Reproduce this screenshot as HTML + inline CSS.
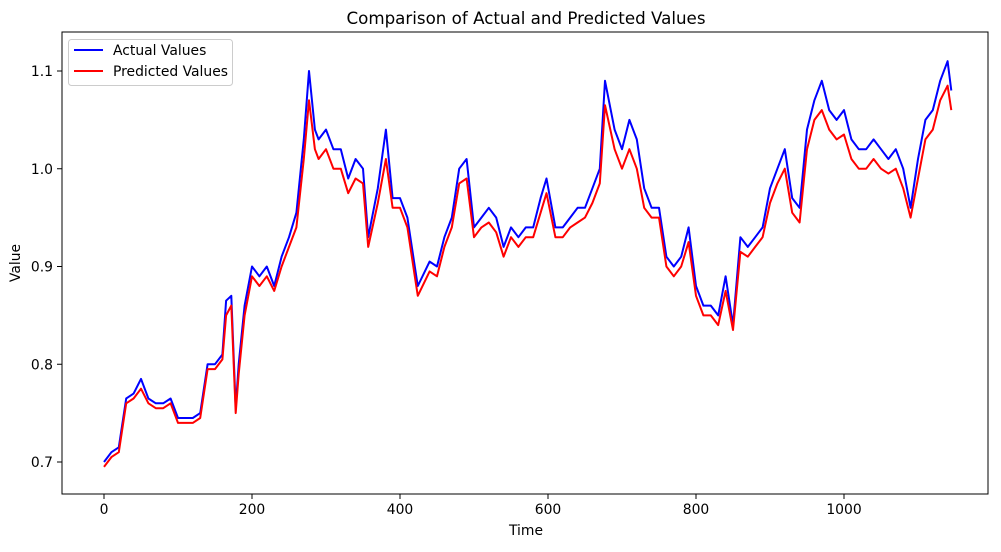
<!DOCTYPE html>
<html><head><meta charset="utf-8"><style>
body{margin:0;background:#fff;}
svg text{font-family:"DejaVu Sans","Liberation Sans",sans-serif;fill:#000;}
</style></head><body>
<svg id="chart" width="1001" height="547" xmlns="http://www.w3.org/2000/svg">
<rect width="1001" height="547" fill="#fff"/>
<text x="526" y="24" font-size="16.7" text-anchor="middle">Comparison of Actual and Predicted Values</text>
<g id="series"></g>
<rect x="62" y="32" width="926" height="462" fill="none" stroke="#000" stroke-width="1"/>
<g id="xticks"></g><g id="yticks"></g>
<text x="526" y="535" font-size="13.9" text-anchor="middle">Time</text>
<text transform="translate(20,263) rotate(-90)" font-size="13.9" text-anchor="middle">Value</text>
<g>
<rect x="68.5" y="39.5" width="164" height="46" rx="3" fill="#fff" stroke="#ccc" stroke-width="1"/>
<line x1="74" y1="50" x2="103" y2="50" stroke="#0000ff" stroke-width="2"/>
<text x="113" y="55" font-size="13.9">Actual Values</text>
<line x1="74" y1="71" x2="103" y2="71" stroke="#ff0000" stroke-width="2"/>
<text x="113" y="76" font-size="13.9">Predicted Values</text>
</g>
</svg>
<script>
const times = [0,10,20,30,40,50,60,70,80,90,100,110,120,130,140,150,160,165,172,178,182,190,200,210,220,230,240,250,260,270,277,285,290,300,310,320,330,340,350,357,370,381,390,400,410,420,424,440,450,460,470,480,490,500,510,520,530,540,550,560,570,580,590,598,610,620,630,640,650,660,670,677,690,700,710,720,730,740,750,760,770,780,790,800,810,820,830,840,850,860,870,880,890,900,910,920,930,940,950,960,970,980,990,1000,1010,1020,1030,1040,1050,1060,1070,1080,1090,1100,1110,1120,1130,1140,1145];
const actualValues = [0.70,0.71,0.715,0.765,0.77,0.785,0.765,0.76,0.76,0.765,0.745,0.745,0.745,0.75,0.80,0.80,0.81,0.865,0.87,0.755,0.80,0.86,0.90,0.89,0.90,0.88,0.91,0.93,0.955,1.03,1.10,1.04,1.03,1.04,1.02,1.02,0.99,1.01,1.00,0.93,0.98,1.04,0.97,0.97,0.95,0.90,0.88,0.905,0.90,0.93,0.95,1.00,1.01,0.94,0.95,0.96,0.95,0.92,0.94,0.93,0.94,0.94,0.97,0.99,0.94,0.94,0.95,0.96,0.96,0.98,1.00,1.09,1.04,1.02,1.05,1.03,0.98,0.96,0.96,0.91,0.90,0.91,0.94,0.88,0.86,0.86,0.85,0.89,0.84,0.93,0.92,0.93,0.94,0.98,1.00,1.02,0.97,0.96,1.04,1.07,1.09,1.06,1.05,1.06,1.03,1.02,1.02,1.03,1.02,1.01,1.02,1.00,0.96,1.01,1.05,1.06,1.09,1.11,1.08];
const predictedValues = [0.695,0.705,0.71,0.76,0.765,0.775,0.76,0.755,0.755,0.76,0.74,0.74,0.74,0.745,0.795,0.795,0.805,0.85,0.86,0.75,0.79,0.85,0.89,0.88,0.89,0.875,0.90,0.92,0.94,1.01,1.07,1.02,1.01,1.02,1.00,1.00,0.975,0.99,0.985,0.92,0.965,1.01,0.96,0.96,0.94,0.89,0.87,0.895,0.89,0.92,0.94,0.985,0.99,0.93,0.94,0.945,0.935,0.91,0.93,0.92,0.93,0.93,0.955,0.975,0.93,0.93,0.94,0.945,0.95,0.965,0.985,1.065,1.02,1.00,1.02,1.00,0.96,0.95,0.95,0.90,0.89,0.90,0.925,0.87,0.85,0.85,0.84,0.875,0.835,0.915,0.91,0.92,0.93,0.965,0.985,1.00,0.955,0.945,1.02,1.05,1.06,1.04,1.03,1.035,1.01,1.00,1.00,1.01,1.00,0.995,1.00,0.98,0.95,0.99,1.03,1.04,1.07,1.085,1.06];
const xTickValues = [0,200,400,600,800,1000];
const yTickValues = [0.7,0.8,0.9,1.0,1.1];
const yTickLabels = ["0.7","0.8","0.9","1.0","1.1"];

const NS = "http://www.w3.org/2000/svg";
function xScale(t){return 104 + t*0.74;}
function yScale(v){return 462 - (v-0.7)*977.5;}

const series = document.getElementById('series');
function drawLine(vals, color, name){
  const p = document.createElementNS(NS,'path');
  let d = '';
  vals.forEach((v,i)=>{ d += (i?'L':'M') + xScale(times[i]).toFixed(1) + ',' + yScale(v).toFixed(1); });
  p.setAttribute('d', d);
  p.setAttribute('fill','none');
  p.setAttribute('stroke', color);
  p.setAttribute('stroke-width','2');
  p.setAttribute('stroke-linejoin','round');
  
  
  series.appendChild(p);
}
drawLine(actualValues, '#0000ff', 'actual-values-line');
drawLine(predictedValues, '#ff0000', 'predicted-values-line');

const xg = document.getElementById('xticks');
xTickValues.forEach(t=>{
  const x = xScale(t);
  const l = document.createElementNS(NS,'line');
  l.setAttribute('x1',x); l.setAttribute('x2',x); l.setAttribute('y1',494); l.setAttribute('y2',499);
  l.setAttribute('stroke','#000');
  
  
  xg.appendChild(l);
  const tx = document.createElementNS(NS,'text');
  tx.setAttribute('x',x); tx.setAttribute('y',514); tx.setAttribute('font-size','13.9'); tx.setAttribute('text-anchor','middle');
  tx.textContent = t;
  
  
  xg.appendChild(tx);
});
const yg = document.getElementById('yticks');
yTickValues.forEach((v,i)=>{
  const y = yScale(v);
  const l = document.createElementNS(NS,'line');
  l.setAttribute('x1',57); l.setAttribute('x2',62); l.setAttribute('y1',y); l.setAttribute('y2',y);
  l.setAttribute('stroke','#000');
  
  
  yg.appendChild(l);
  const tx = document.createElementNS(NS,'text');
  tx.setAttribute('x',53); tx.setAttribute('y',y+5); tx.setAttribute('font-size','13.9'); tx.setAttribute('text-anchor','end');
  tx.textContent = yTickLabels[i];
  
  
  yg.appendChild(tx);
});
</script>
</body></html>
